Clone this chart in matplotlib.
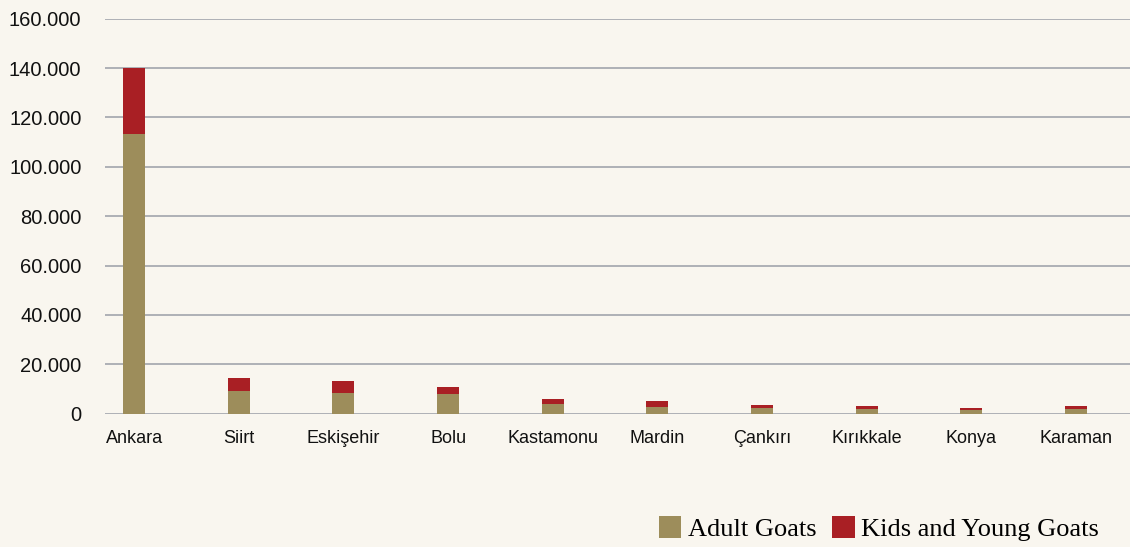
import matplotlib.pyplot as plt
from matplotlib.ticker import FuncFormatter
import numpy as np

provinces = ["Ankara", "Siirt", "Eskişehir", "Bolu", "Kastamonu", "Mardin",
             "Çankırı", "Kırıkkale", "Konya", "Karaman"]
adult_goats = [113300, 9200, 8400, 8000, 3900, 2700, 2300, 1900, 1500, 1900]
kids_goats = [26700, 5300, 4800, 2800, 2100, 2400, 1200, 1200, 800, 1200]

tan = "#9d8d5b"
red = "#a91f24"
bg = "#f9f6ef"

sans = ["Liberation Sans", "DejaVu Sans"]

fig = plt.figure(figsize=(11.3, 5.47), dpi=100, facecolor=bg)
ax = fig.add_axes([105 / 1130, (547 - 413.7) / 547, 1025 / 1130, 395 / 547])
ax.set_facecolor(bg)

x = np.arange(len(provinces))
b1 = ax.bar(x, adult_goats, width=0.21, color=tan, label="Adult Goats", zorder=3)
b2 = ax.bar(x, kids_goats, width=0.21, bottom=adult_goats, color=red,
            label="Kids and Young Goats", zorder=3)

ax.set_xlim(-0.278, 9.515)
ax.set_ylim(0, 160000)
ax.set_yticks(np.arange(0, 160001, 20000))
ax.yaxis.set_major_formatter(FuncFormatter(lambda v, p: f"{int(v):,}".replace(",", ".")))
ax.set_xticks(x)
ax.set_xticklabels(provinces)
ax.grid(axis="y", color="#a9abb1", linewidth=1.3, zorder=0)
ax.grid(axis="x", visible=False)
for s in ax.spines.values():
    s.set_visible(False)
ax.tick_params(length=0)
ax.tick_params(axis="y", pad=17)
ax.tick_params(axis="x", pad=12)
for lab in ax.get_yticklabels():
    lab.set_family(sans)
    lab.set_fontsize(14.5)
    lab.set_color("#111111")
for lab in ax.get_xticklabels():
    lab.set_family(sans)
    lab.set_fontsize(13)
    lab.set_color("#111111")

fig.legend(handles=[b1, b2], loc="lower right", bbox_to_anchor=(1115 / 1130, -0.018),
           ncol=2, frameon=False, prop={"family": "Liberation Serif", "size": 19},
           handlelength=0.85, handleheight=0.9, handletextpad=0.25,
           columnspacing=0.6, borderaxespad=0.2)

fig.savefig("out.png", dpi=100, facecolor=bg)
